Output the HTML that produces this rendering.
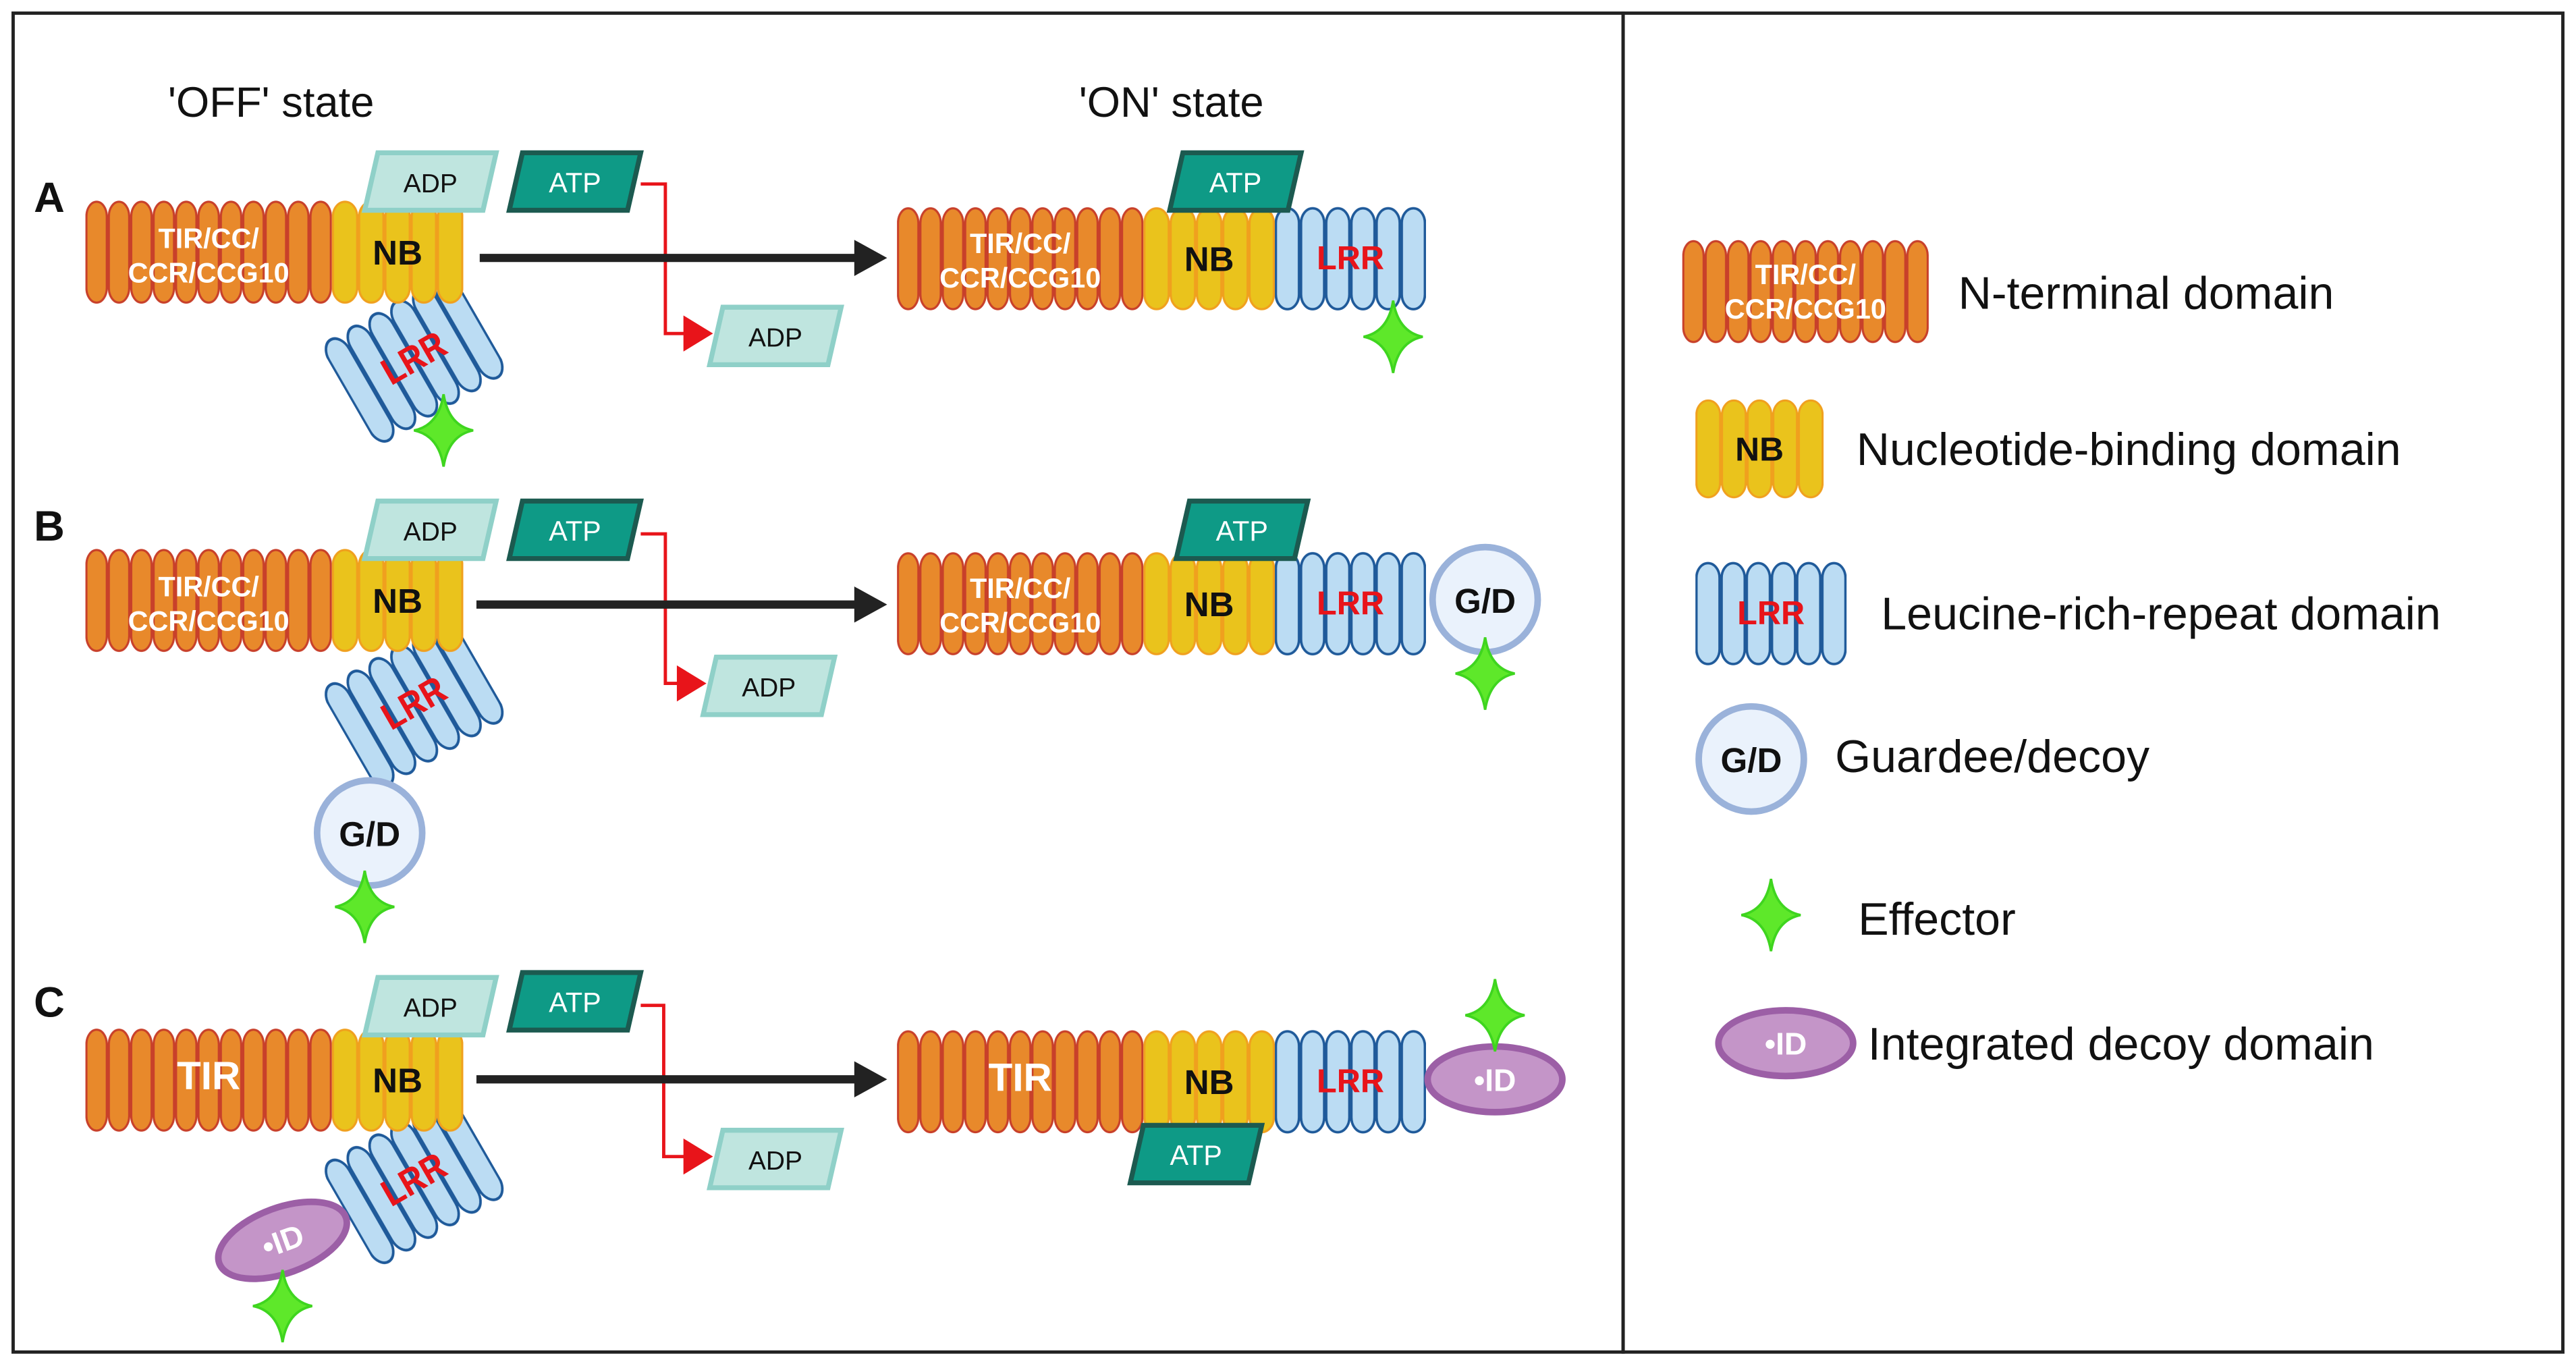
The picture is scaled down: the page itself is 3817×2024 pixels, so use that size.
<!DOCTYPE html>
<html><head><meta charset="utf-8"><style>
html,body{margin:0;padding:0;background:#fff;}
svg{display:block;}
text{font-family:"Liberation Sans",sans-serif;}
</style></head><body>
<svg width="3817" height="2024" viewBox="0 0 1568 831.5" preserveAspectRatio="none" xmlns="http://www.w3.org/2000/svg">
<defs>
<pattern id="po" patternUnits="userSpaceOnUse" width="13.64" height="63"><rect x="0.6" y="0.8" width="12.4" height="61.4" rx="6.2" ry="9" fill="#E8892B" stroke="#C8402A" stroke-width="1.3"/></pattern>
<pattern id="py" patternUnits="userSpaceOnUse" width="16" height="63"><rect x="0.6" y="0.8" width="14.8" height="61.4" rx="7.4" ry="9" fill="#EAC31C" stroke="#F0A01E" stroke-width="1.3"/></pattern>
<pattern id="pb" patternUnits="userSpaceOnUse" width="15.33" height="63"><rect x="0.6" y="0.8" width="14.1" height="61.4" rx="7" ry="9" fill="#BBDCF3" stroke="#1F5A9A" stroke-width="1.5"/></pattern>
<g id="star"><path d="M0,-22 Q3,-3 18,0 Q3,3 0,22 Q-3,3 -18,0 Q-3,-3 0,-22Z" fill="#5EE82A" stroke="#3fd51f" stroke-width="1.5"/></g>
<g id="adp"><polygon points="8,0 80,0 72,35 0,35" fill="#BFE5DF" stroke="#8FD0C8" stroke-width="3"/><text x="40" y="24" font-size="16" text-anchor="middle" fill="#111">ADP</text></g>
<g id="atp"><polygon points="8,0 80,0 72,35 0,35" fill="#0E9A86" stroke="#1C5A50" stroke-width="3"/><text x="40" y="24" font-size="17" text-anchor="middle" fill="#fff">ATP</text></g>
<g id="nterm"><rect x="0" y="0" width="150" height="63" fill="url(#po)"/></g>
<g id="nb"><rect x="0" y="0" width="80" height="63" fill="url(#py)"/><text x="40" y="39" font-size="21" font-weight="bold" text-anchor="middle" fill="#111">NB</text></g>
<g id="lrr"><rect x="0" y="0" width="92" height="63" fill="url(#pb)"/><text x="46" y="38" font-size="20" font-weight="bold" text-anchor="middle" fill="#e8141a">LRR</text></g>
<g id="gd"><circle r="32" fill="#EAF2FC" stroke="#9AB2DA" stroke-width="4"/><text y="8" font-size="21" font-weight="bold" text-anchor="middle" fill="#111">G/D</text></g>
<g id="id"><ellipse rx="41" ry="20" fill="#C495C8" stroke="#9C5FA6" stroke-width="4"/><text y="7" font-size="19" font-weight="bold" text-anchor="middle" fill="#fff">•ID</text></g>
<marker id="ab" markerWidth="8" markerHeight="8" refX="2" refY="4" orient="auto" markerUnits="userSpaceOnUse" viewBox="0 0 8 8"></marker>
</defs>

<rect x="8" y="8" width="980" height="815" fill="none" stroke="#222" stroke-width="2"/>
<rect x="988" y="8" width="572" height="815" fill="none" stroke="#222" stroke-width="2"/>

<text x="165" y="71" font-size="26" text-anchor="middle" fill="#111">'OFF' state</text>
<text x="713" y="71" font-size="26" text-anchor="middle" fill="#111">'ON' state</text>
<text x="30" y="129" font-size="26" font-weight="bold" text-anchor="middle" fill="#111">A</text>
<text x="30" y="329" font-size="26" font-weight="bold" text-anchor="middle" fill="#111">B</text>
<text x="30" y="619" font-size="26" font-weight="bold" text-anchor="middle" fill="#111">C</text>

<!-- Row A OFF -->
<g transform="translate(252,218) rotate(-30)"><use href="#lrr" transform="translate(-46,-36) scale(1,1.15)"/></g>
<use href="#star" x="270" y="262"/>
<use href="#nterm" x="52" y="122"/>
<text x="127" y="151" font-size="17" font-weight="bold" text-anchor="middle" fill="#fff">TIR/CC/</text>
<text x="127" y="172" font-size="17" font-weight="bold" text-anchor="middle" fill="#fff">CCR/CCG10</text>
<use href="#nb" x="202" y="122"/>
<use href="#adp" x="222" y="93"/>
<use href="#atp" x="310" y="93"/>
<polyline points="390,112 405,112 405,203 418,203" fill="none" stroke="#e8141a" stroke-width="2"/>
<polygon points="416,192 434,203 416,214" fill="#e8141a"/>
<use href="#adp" x="432" y="187"/>
<line x1="292" y1="157" x2="522" y2="157" stroke="#222" stroke-width="5"/>
<polygon points="520,146 540,157 520,168" fill="#222"/>
<!-- Row A ON -->
<use href="#nterm" x="546" y="126"/>
<text x="621" y="154" font-size="17" font-weight="bold" text-anchor="middle" fill="#fff">TIR/CC/</text>
<text x="621" y="175" font-size="17" font-weight="bold" text-anchor="middle" fill="#fff">CCR/CCG10</text>
<use href="#nb" x="696" y="126"/>
<use href="#lrr" x="776" y="126"/>
<use href="#atp" x="712" y="93"/>
<use href="#star" x="848" y="205"/>

<!-- Row B OFF -->
<g transform="translate(252,428) rotate(-30)"><use href="#lrr" transform="translate(-46,-36) scale(1,1.15)"/></g>
<use href="#gd" x="225" y="507"/>
<use href="#star" x="222" y="552"/>
<use href="#nterm" x="52" y="334"/>
<text x="127" y="363" font-size="17" font-weight="bold" text-anchor="middle" fill="#fff">TIR/CC/</text>
<text x="127" y="384" font-size="17" font-weight="bold" text-anchor="middle" fill="#fff">CCR/CCG10</text>
<use href="#nb" x="202" y="334"/>
<use href="#adp" x="222" y="305"/>
<use href="#atp" x="310" y="305"/>
<polyline points="390,325 405,325 405,416 414,416" fill="none" stroke="#e8141a" stroke-width="2"/>
<polygon points="412,405 430,416 412,427" fill="#e8141a"/>
<use href="#adp" x="428" y="400"/>
<line x1="290" y1="368" x2="522" y2="368" stroke="#222" stroke-width="5"/>
<polygon points="520,357 540,368 520,379" fill="#222"/>
<!-- Row B ON -->
<use href="#nterm" x="546" y="336"/>
<text x="621" y="364" font-size="17" font-weight="bold" text-anchor="middle" fill="#fff">TIR/CC/</text>
<text x="621" y="385" font-size="17" font-weight="bold" text-anchor="middle" fill="#fff">CCR/CCG10</text>
<use href="#nb" x="696" y="336"/>
<use href="#lrr" x="776" y="336"/>
<use href="#atp" x="716" y="305"/>
<use href="#gd" x="904" y="365"/>
<use href="#star" x="904" y="410"/>

<!-- Row C OFF -->
<g transform="translate(252,718) rotate(-30)"><use href="#lrr" transform="translate(-46,-36) scale(1,1.15)"/></g>
<g transform="translate(172,755) rotate(-20)"><use href="#id"/></g>
<use href="#star" x="172" y="795"/>
<use href="#nterm" x="52" y="626"/>
<text x="127" y="663" font-size="24" font-weight="bold" text-anchor="middle" fill="#fff">TIR</text>
<use href="#nb" x="202" y="626"/>
<use href="#adp" x="222" y="595"/>
<use href="#atp" x="310" y="592"/>
<polyline points="390,612 404,612 404,704 418,704" fill="none" stroke="#e8141a" stroke-width="2"/>
<polygon points="416,693 434,704 416,715" fill="#e8141a"/>
<use href="#adp" x="432" y="688"/>
<line x1="290" y1="657" x2="522" y2="657" stroke="#222" stroke-width="5"/>
<polygon points="520,646 540,657 520,668" fill="#222"/>
<!-- Row C ON -->
<use href="#nterm" x="546" y="627"/>
<text x="621" y="664" font-size="24" font-weight="bold" text-anchor="middle" fill="#fff">TIR</text>
<use href="#nb" x="696" y="627"/>
<use href="#lrr" x="776" y="627"/>
<use href="#atp" x="688" y="685"/>
<use href="#id" x="910" y="657"/>
<use href="#star" x="910" y="618"/>

<!-- Legend -->
<use href="#nterm" x="1024" y="146"/>
<text x="1099" y="173" font-size="17" font-weight="bold" text-anchor="middle" fill="#fff">TIR/CC/</text>
<text x="1099" y="194" font-size="17" font-weight="bold" text-anchor="middle" fill="#fff">CCR/CCG10</text>
<text x="1192" y="188" font-size="28" fill="#111">N-terminal domain</text>
<g transform="translate(1032,243) scale(0.975,0.96)"><use href="#nb"/></g>
<text x="1130" y="283" font-size="28" fill="#111">Nucleotide-binding domain</text>
<use href="#lrr" x="1032" y="342"/>
<text x="1145" y="383" font-size="28" fill="#111">Leucine-rich-repeat domain</text>
<use href="#gd" x="1066" y="462"/>
<text x="1117" y="470" font-size="28" fill="#111">Guardee/decoy</text>
<use href="#star" x="1078" y="557"/>
<text x="1131" y="569" font-size="28" fill="#111">Effector</text>
<use href="#id" x="1087" y="635"/>
<text x="1137" y="645" font-size="28" fill="#111">Integrated decoy domain</text>
</svg>
</body></html>
